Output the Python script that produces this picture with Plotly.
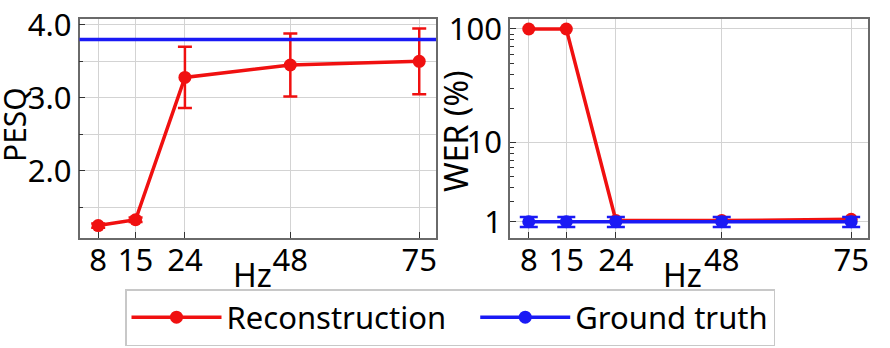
import plotly.graph_objects as go
from plotly.subplots import make_subplots

# ---- data ----
hz_labels = ["8", "15", "24", "48", "75"]
hz_pos = [8, 15.8, 26.1, 48.1, 75]          # positions

pesq_recon = [1.25, 1.33, 3.28, 3.45, 3.50]
pesq_recon_err = [0.03, 0.03, 0.42, 0.43, 0.45]
pesq_gt = 3.80

wer_recon = [100, 100, 2.05, 2.05, 2.1]
wer_gt = [2.0, 2.0, 2.0, 2.0, 2.0]
wer_gt_err = [0.2, 0.2, 0.2, 0.2, 0.2]

wer_tickvals = [2, 10, 100]
wer_ticktext = ["1", "10", "100"]
wer_minor = [3, 4, 5, 6, 7, 8, 9, 20, 30, 40, 50, 60, 70, 80, 90]

RED = "#f01010"
BLUE = "#1a1af5"
FONT = "Noto Sans"
FS = 31
LFS = 31
TFS = 32

fig = make_subplots(rows=1, cols=2)

fig.add_trace(go.Scatter(
    x=hz_pos, y=pesq_recon, mode="lines+markers", name="Reconstruction   ",
    line=dict(color=RED, width=3.5), marker=dict(color=RED, size=13),
    error_y=dict(type="data", array=pesq_recon_err, color=RED, thickness=2.5, width=7),
    showlegend=True), row=1, col=1)
fig.add_hline(y=pesq_gt, line=dict(color=BLUE, width=3.5), row=1, col=1)

fig.add_trace(go.Scatter(
    x=hz_pos, y=wer_recon, mode="lines+markers", name="Reconstruction",
    line=dict(color=RED, width=3.5), marker=dict(color=RED, size=13),
    showlegend=False), row=1, col=2)
fig.add_trace(go.Scatter(
    x=hz_pos, y=wer_gt, mode="lines+markers", name="Ground truth",
    line=dict(color=BLUE, width=3.5), marker=dict(color=BLUE, size=13),
    error_y=dict(type="data", array=wer_gt_err, color=BLUE, thickness=2.5, width=9),
    showlegend=True), row=1, col=2)

W, H = 890, 348
def px_x(p): return p / W
def px_y(p): return (H - p) / H

axis_common = dict(
    showline=True, linecolor="#6a6a6a", linewidth=1.5, mirror=True,
    ticks="inside", ticklen=6, tickwidth=1.2, tickcolor="#333",
    showgrid=True, gridcolor="#d3d3d3", gridwidth=1, zeroline=False,
    tickfont=dict(family=FONT, size=FS, color="black"),
    automargin=False,
)

ann = dict(xref="paper", yref="paper", showarrow=False, xanchor="center", yanchor="middle",
           font=dict(family=FONT, size=TFS, color="black"))

fig.update_layout(
    width=W, height=H, margin=dict(l=0, r=0, t=0, b=0, autoexpand=False),
    plot_bgcolor="white", paper_bgcolor="white",
    font=dict(family=FONT, size=FS, color="black"),
    xaxis=dict(domain=[px_x(79.5), px_x(436)], range=[4.1, 78.5],
               tickvals=hz_pos, ticktext=hz_labels, ticklabelstandoff=-6, **axis_common),
    xaxis2=dict(domain=[px_x(510), px_x(868)], range=[4.1, 78.5],
                tickvals=hz_pos, ticktext=hz_labels, ticklabelstandoff=-6, **axis_common),
    yaxis=dict(domain=[px_y(238), px_y(19)], range=[1.08, 4.08],
               tickvals=[2.0, 3.0, 4.0], ticktext=["2.0", "3.0", "4.0"],
               minor=dict(tickvals=[1.5, 2.5, 3.5], ticks="inside", ticklen=4,
                          tickcolor="#333", showgrid=True, gridcolor="#d3d3d3"),
               ticklabelstandoff=0, **axis_common),
    yaxis2=dict(domain=[px_y(238), px_y(19)], type="log",
                range=[0.158, 2.088],
                tickvals=wer_tickvals, ticktext=wer_ticktext,
                minor=dict(tickvals=wer_minor, ticks="inside", ticklen=4,
                           tickcolor="#333", showgrid=False),
                ticklabelstandoff=0, **axis_common),
    legend=dict(orientation="h", x=px_x(450), xanchor="center", y=px_y(346), yanchor="bottom",
                bordercolor="#c8c8c8", borderwidth=1.5, bgcolor="white",
                font=dict(family=FONT, size=LFS, color="black"),
                itemwidth=90, tracegroupgap=0),
    annotations=[
        dict(text="Hz", x=px_x(252), y=px_y(274), **ann),
        dict(text="Hz", x=px_x(682), y=px_y(274), **ann),
        dict(text="PESQ", x=px_x(14), y=px_y(125), textangle=-90,
             xref="paper", yref="paper", showarrow=False, xanchor="center", yanchor="middle",
             font=dict(family=FONT, size=30, color="black")),
        dict(text="WER (%)", x=px_x(456), y=px_y(131), textangle=-90, **ann),
    ],
)

fig.write_html("out.html")
